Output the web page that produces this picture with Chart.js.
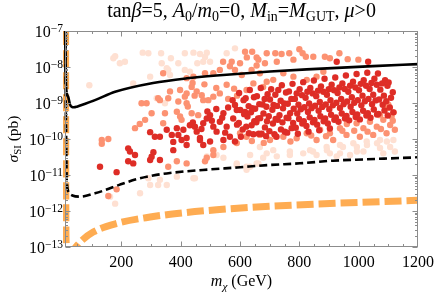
<!DOCTYPE html>
<html><head><meta charset="utf-8">
<script src="https://cdn.jsdelivr.net/npm/chart.js@4/dist/chart.umd.min.js"></script>
<style>html,body{margin:0;padding:0;background:#fff}canvas{display:block}</style>
</head><body>
<canvas id="c" width="435" height="296"></canvas>
<script>
// ---------- text / axes ----------
const xRange = [10, 1200];
const yRange = [1e-13, 1e-7];
const xTicks = [200, 400, 600, 800, 1000, 1200];
const yTickExps = [-13, -12, -11, -10, -9, -8, -7];
const titleParts = [
  {t:'tan'},{t:'β',i:1},{t:'=5, '},{t:'A',i:1},{t:'0',sub:1},{t:'/'},{t:'m',i:1},{t:'0',sub:1},
  {t:'=0, '},{t:'M',i:1},{t:'in',sub:1},{t:'='},{t:'M',i:1},{t:'GUT',sub:1},{t:', '},{t:'μ',i:1},{t:'>0'}
];
const xLabelParts = [{t:'m',i:1},{t:'χ',i:1,sub:1},{t:' (GeV)'}];
const yLabelParts = [{t:'σ',i:1},{t:'SI',sub:1},{t:' (pb)'}];

// ---------- curves [m (GeV), sigma (pb)] ----------
const limitSolid = [[10.5,1.2e-7],[12,1e-8],[13.5,3e-9],[16,1.9e-9],[21,1.45e-9],[27,9e-10],[33,7.8e-10],[40,7.6e-10],[50,7.9e-10],[66,8.8e-10],[111,1.2e-9],[179,2.05e-9],[307,3.6e-9],[421,4.85e-9],[532,5.9e-9],[701,7.5e-9],[825,8.6e-9],[1048,1.06e-8],[1200,1.2e-8]];
const limitDashed = [[11.2,1.2e-7],[12.5,1e-9],[14,1e-10],[15.2,1.2e-11],[16.5,6e-12],[19,4e-12],[25,3.1e-12],[35,2.7e-12],[61,2.5e-12],[111,3.1e-12],[145,3.8e-12],[195,5.4e-12],[253,7.7e-12],[307,9.7e-12],[364,1.14e-11],[475,1.38e-11],[590,1.62e-11],[701,1.9e-11],[802,2.11e-11],[913,2.5e-11],[1028,2.73e-11],[1200,3.1e-11]];
const floorCurve = [[12,1.2e-7],[12.2,1e-9],[12.8,1e-12],[14,1.3e-13],[17,8.5e-14],[25,7.5e-14],[35,8e-14],[44,9.5e-14],[66,1.5e-13],[105,2.6e-13],[184,4.5e-13],[297,6.8e-13],[409,8.9e-13],[521,1.08e-12],[634,1.26e-12],[858,1.56e-12],[1083,1.83e-12],[1200,1.98e-12]];

// ---------- scan points [m (GeV), sigma (pb)] ----------
const redPts = [
[597,1.9e-9],[612,1.2e-9],[601,6.4e-10],[614,4.9e-10],[596,2.8e-10],[609,1.85e-10],[603,1.15e-10],
[619,1.35e-9],[629,8.2e-10],[617,5.6e-10],[625,4.2e-10],[621,2.2e-10],[630,1.45e-10],
[633,2.3e-9],[647,1.45e-9],[641,7.2e-10],[637,5.5e-10],[648,3.1e-10],[639,2.4e-10],[645,1.35e-10],
[657,1.55e-9],[665,9.3e-10],[651,6.9e-10],[661,3.7e-10],[655,2.9e-10],[663,1.4e-10],
[670,2.6e-9],[683,1.3e-9],[676,9.1e-10],[679,5.1e-10],[668,3.8e-10],[684,2.1e-10],[673,1.4e-10],
[693,1.75e-9],[701,1.25e-9],[689,7.9e-10],[697,4.3e-10],[691,3.1e-10],[699,1.65e-10],[688,1.2e-10],
[705,2.4e-9],[719,1.7e-9],[713,8.8e-10],[709,6.5e-10],[720,3.6e-10],[711,2.7e-10],[716,1.35e-10],
[729,2.3e-9],[737,1.15e-9],[725,8.3e-10],[733,4.6e-10],[727,3.4e-10],[738,1.85e-10],[723,1.15e-10],
[741,3.1e-9],[755,1.95e-9],[749,9.7e-10],[745,7.1e-10],[757,3.9e-10],[743,2.9e-10],[751,1.6e-10],
[765,2.1e-9],[773,1.3e-9],[761,9.5e-10],[769,5.2e-10],[763,3.8e-10],[774,2.0e-10],[759,1.5e-10],
[777,3.4e-9],[791,1.85e-9],[785,1.3e-9],[781,6.9e-10],[793,5.1e-10],[779,2.8e-10],[788,2.05e-10],
[801,2.4e-9],[809,1.65e-9],[797,8.9e-10],[805,6.7e-10],[799,3.6e-10],[810,2.7e-10],[795,1.4e-10],
[813,3.8e-9],[827,2.05e-9],[821,1.4e-9],[817,7.6e-10],[829,5.6e-10],[815,3.1e-10],[824,2.3e-10],
[837,2.6e-9],[845,1.85e-9],[833,9.7e-10],[841,7.2e-10],[835,4.0e-10],[846,2.9e-10],[831,1.6e-10],
[849,4.2e-9],[863,2.2e-9],[857,1.55e-9],[853,8.4e-10],[865,6.1e-10],[851,3.4e-10],[860,2.5e-10],
[873,2.9e-9],[881,2.05e-9],[869,1.07e-9],[877,7.8e-10],[871,4.3e-10],[882,3.1e-10],[867,1.75e-10],
[885,4.7e-9],[899,2.4e-9],[893,1.7e-9],[889,9.1e-10],[901,6.7e-10],[887,3.7e-10],[896,2.7e-10],
[909,3.2e-9],[917,2.25e-9],[905,1.2e-9],[913,8.6e-10],[907,4.7e-10],[918,3.4e-10],[903,1.95e-10],
[921,5.1e-9],[935,2.7e-9],[929,1.9e-9],[925,1.02e-9],[937,7.3e-10],[923,4.0e-10],[932,3.0e-10],
[945,3.5e-9],[953,2.45e-9],[941,1.3e-9],[949,9.3e-10],[943,5.1e-10],[954,3.7e-10],
[957,5.8e-9],[971,3.0e-9],[965,2.05e-9],[961,1.1e-9],[973,7.9e-10],[959,4.4e-10],[968,3.3e-10],
[981,3.9e-9],[989,2.7e-9],[977,1.45e-9],[985,1.02e-9],[979,5.6e-10],[990,4.1e-10],
[993,6.4e-9],[1007,3.4e-9],[1001,2.25e-9],[997,1.2e-9],[1009,8.6e-10],[995,4.8e-10],[1004,3.5e-10],
[1017,4.3e-9],[1025,3.0e-9],[1013,1.6e-9],[1021,1.12e-9],[1015,6.1e-10],[1026,4.5e-10],
[1029,6.9e-9],[1043,3.6e-9],[1037,2.45e-9],[1033,1.3e-9],[1045,9.3e-10],[1031,5.2e-10],[1040,3.9e-10],
[1053,4.7e-9],[1061,3.2e-9],[1049,1.7e-9],[1057,1.18e-9],[1051,6.6e-10],[1062,4.8e-10],
[1065,6.6e-9],[1079,3.5e-9],[1073,2.35e-9],[1069,1.25e-9],[1081,8.9e-10],[1067,5.0e-10],
[1089,4.3e-9],[1097,3.0e-9],[1085,1.6e-9],[1093,1.12e-9],[1087,6.2e-10],[1098,4.5e-10],
[1101,3.7e-9],[1115,2.0e-9],[1109,1.4e-9],[1105,7.5e-10],[1117,5.5e-10],
[926,1.4e-8],[1032,1.4e-8],
[431,2.4e-10],[441,2.9e-10],[420,1.07e-10],[420,6.8e-11],[403,9.4e-11],[392,1.3e-10],[387,2.0e-10],
[375,8.3e-11],[375,4.9e-11],[353,1.8e-10],[370,1.3e-10],[330,1.15e-10],[297,1.55e-10],[313,1.15e-10],
[302,3.2e-11],[308,4.3e-11],[297,2.6e-11],[330,2.6e-11],[223,5.5e-11],[229,4.5e-11],[246,3.6e-11],
[223,2.4e-11],[240,2.1e-11],[128,1.7e-11],[184,1.2e-11],[465,1.07e-10],[476,6.8e-11],[448,2.2e-10],
[454,1.6e-10],[476,2.75e-10],[488,3.7e-10],[499,4.6e-10],[510,2.2e-10],[521,1.6e-10],[532,3.0e-10],
[544,5.2e-10],[555,2.2e-10],[566,1.15e-10],[577,3.7e-10],[589,6.4e-10],[583,8.8e-10],[465,9.4e-11],
[499,8.5e-11],[544,9.4e-11],[583,8.5e-11],[409,1.8e-10],[560,7.5e-10],[520,6.8e-10],[490,5.8e-10],
[575,1.2e-9],[540,3.9e-10],[505,3.2e-10],[470,1.9e-10],[590,2.5e-10],[550,1.5e-10]
];
const salmonPts = [
[617,2.65e-8],[641,2.65e-8],[623,1.85e-8],[656,1.85e-8],[690,2.4e-8],[719,2.4e-8],[740,2.3e-8],[766,2.4e-8],
[800,3.1e-8],[811,2.4e-8],[822,1.93e-8],[847,1.93e-8],[886,1.93e-8],[903,1.75e-8],[935,2.4e-8],[963,1.65e-8],
[543,1.4e-8],[572,1.4e-8],[600,1.27e-8],[662,1.6e-8],[684,1.27e-8],[656,1.1e-8],[724,1.4e-8],[780,1.6e-8],
[999,1.6e-8],[532,8.3e-9],[566,1.05e-8],[583,8.3e-9],[639,8.3e-9],[510,6.7e-9],[482,6.7e-9],[341,6.7e-9],
[443,5.4e-9],[420,4.9e-9],
[364,2.1e-9],[398,2.3e-9],[420,1.85e-9],[437,2.8e-9],[454,2.1e-9],[471,1.65e-9],[493,1.2e-9],[510,1.5e-9],
[532,1.85e-9],[268,9.8e-10],[285,9.8e-10],[330,1.2e-9],[358,1.35e-9],[392,1.1e-9],[420,9.8e-10],[302,5.2e-10],
[398,4.2e-10],[437,5.2e-10],[459,4.6e-10],[246,2.0e-10],[280,3.4e-10],[262,2.6e-10],[341,2.75e-10],[347,5.2e-10],
[387,5.7e-10],[403,3.4e-10],[424,8e-10],[414,1.5e-9],[447,1.6e-9],[476,1.2e-9],[324,1.35e-9],[622,2.3e-9],
[645,3.5e-9],[678,2.8e-9],[712,4.4e-9],[746,6.7e-9],[780,5.4e-9],[825,4.4e-9],[858,5.4e-9],[881,7.4e-9],
[690,3.9e-9],[667,6.7e-9],[606,6e-9],[555,3.2e-9],[580,2.5e-9],[520,2.6e-9],[480,3.3e-9],[440,3.6e-9],
[560,1.3e-9],[590,1.6e-9],
[870,1.8e-10],[903,1.45e-10],[937,2e-10],[959,1.3e-10],[993,2.75e-10],[1016,2e-10],[1038,3e-10],[1061,2.2e-10],
[1083,3.4e-10],[1106,2.45e-10],[1122,1.8e-10],[1049,1.3e-10],[1094,1.45e-10],[825,1.45e-10],[791,1.05e-10],
[746,1.15e-10],[701,9.4e-11],[667,1.3e-10],[622,1.15e-10],[600,1.45e-10],[858,9.4e-11],[914,9.4e-11],
[1004,1.15e-10],[1072,4.6e-10],[1111,4.2e-10],[1094,7.1e-10],[960,2.6e-10],[985,1.7e-10],[1030,1.6e-10],
[1075,1.9e-10],[1115,3.2e-10],[945,1.7e-10],[890,1.2e-10],[840,1.25e-10],[770,8.5e-11],[720,1.2e-10],
[680,7.8e-11],[640,8.8e-11],[1118,5.5e-10],[1100,9e-10],
[134,9.4e-11],[156,1.0e-10],[134,7.4e-11],[156,2.6e-12],[184,4.0e-12],[420,2.1e-11],[482,2.4e-11],
[510,3.6e-11],[387,2.4e-11],[488,3e-11],[510,4.9e-11],[544,6e-11],[589,7.7e-11],[358,1.7e-11]
];
const lightPts = [
[92,3.1e-9],[173,1.75e-8],[179,2.0e-8],[195,1.27e-8],[212,1.4e-8],[272,2.5e-8],[291,2.4e-8],[334,2.4e-8],
[367,1.75e-8],[336,1.27e-8],[358,8.3e-9],[392,1.27e-8],[414,8.3e-9],[431,7.4e-9],[443,2.5e-8],[465,2.3e-8],
[488,2.5e-8],[456,1.27e-8],[476,1.4e-8],[499,1.4e-8],[240,3.5e-9],[555,2.4e-8],[583,3.3e-8],[414,2.4e-8],
[482,1.9e-8],[297,5.4e-9],[353,9.2e-9],[364,6e-9],[319,1.35e-9],[347,9.8e-10],
[488,3.3e-11],[521,3.6e-11],[544,3e-11],[589,2.1e-11],[634,1.7e-11],[662,2.1e-11],[678,3e-11],[724,3.3e-11],
[768,3.6e-11],[813,4e-11],[858,3.6e-11],[903,4e-11],[926,3.3e-11],[971,3.6e-11],[1016,4.5e-11],[1083,4e-11],
[846,4.5e-11],[893,4.9e-11],[947,6e-11],[994,6e-11],[1028,6.8e-11],[1062,7.6e-11],[1095,8.5e-11],[1122,4.5e-11],
[937,4e-11],[994,4.5e-11],[667,6e-11],[712,4.9e-11],[768,4.5e-11],[836,4.9e-11],[892,6e-11],[937,6.8e-11],
[982,7.6e-11],[1027,8.5e-11],[1072,9.4e-11],[1117,9.4e-11],[1072,5.6e-11],[1106,6e-11],[634,3.6e-11],[690,4e-11],
[622,1.7e-11],
[443,8.1e-12],[297,5.3e-12],[324,5.3e-12],[353,5.3e-12],[263,3.1e-12],[179,1.6e-12],[387,9e-12],[162,2.5e-12],
[330,7.4e-12],[291,8.1e-12],[448,8.1e-12],[622,1.4e-11],[589,1.9e-11],[656,2.1e-11]
];

// ---------- rendering ----------
const FONT = '"Liberation Serif","Times New Roman",serif';
function partFont(p, size) {
  const s = p.sub ? size * 0.7 : size;
  return (p.i ? 'italic ' : '') + s.toFixed(2) + 'px ' + FONT;
}
function richWidth(ctx, parts, size) {
  let w = 0;
  for (const p of parts) { ctx.font = partFont(p, size); w += ctx.measureText(p.t).width; }
  return w;
}
function drawRich(ctx, parts, cx, y, size) {
  let x = cx - richWidth(ctx, parts, size) / 2;
  ctx.textAlign = 'left';
  for (const p of parts) {
    ctx.font = partFont(p, size);
    ctx.fillText(p.t, x, p.sub ? y + size * 0.22 : y);
    x += ctx.measureText(p.t).width;
  }
}

const decor = {
  id: 'decor',
  afterDraw(chart) {
    const {ctx, chartArea: a, scales} = chart;
    const xs = scales.x, ys = scales.y;
    ctx.save();
    ctx.strokeStyle = '#8c8c8c';
    ctx.lineWidth = 1;
    const L = Math.round(a.left) + 0.5, R = Math.round(a.right) - 0.5;
    const T = Math.round(a.top) + 0.5, B = Math.round(a.bottom) - 0.5;
    ctx.strokeRect(L, T, R - L, B - T);
    ctx.beginPath();
    for (let v = 50; v < xRange[1]; v += 50) {
      const px = Math.round(xs.getPixelForValue(v)) + 0.5;
      if (px <= L) continue;
      const len = v % 200 === 0 ? 5 : 2.5;
      ctx.moveTo(px, B); ctx.lineTo(px, B - len);
      ctx.moveTo(px, T); ctx.lineTo(px, T + len);
    }
    for (let e = yTickExps[0]; e < yTickExps[yTickExps.length - 1]; e++) {
      for (let k = 1; k < 10; k++) {
        const py = Math.round(ys.getPixelForValue(k * Math.pow(10, e))) + 0.5;
        const len = k === 1 ? 5 : 2.5;
        ctx.moveTo(L, py); ctx.lineTo(L + len, py);
        ctx.moveTo(R, py); ctx.lineTo(R - len, py);
      }
    }
    ctx.stroke();

    ctx.fillStyle = '#000';
    ctx.textBaseline = 'alphabetic';
    ctx.font = '16px ' + FONT;
    ctx.textAlign = 'center';
    for (const v of xTicks) ctx.fillText(String(v), xs.getPixelForValue(v), a.bottom + 20);

    for (const e of yTickExps) {
      const py = ys.getPixelForValue(Math.pow(10, e));
      const sup = '\u2212' + Math.abs(e);
      ctx.font = '11.5px ' + FONT;
      const sw = ctx.measureText(sup).width;
      ctx.textAlign = 'right';
      ctx.fillText(sup, a.left - 2, py + 0.5);
      ctx.font = '16px ' + FONT;
      ctx.fillText('10', a.left - 2 - sw, py + 6);
    }

    const tSize = Math.min(20, 18 * 286 / richWidth(ctx, titleParts, 18));
    drawRich(ctx, titleParts, (a.left + a.right) / 2, 17, tSize);
    drawRich(ctx, xLabelParts, (a.left + a.right) / 2, 286, 16);
    ctx.save();
    ctx.translate(18, (a.top + a.bottom) / 2);
    ctx.rotate(-Math.PI / 2);
    drawRich(ctx, yLabelParts, 0, 0, 15.5);
    ctx.restore();
    ctx.restore();
  }
};

const toXY = arr => arr.map(([m, s]) => ({x: m, y: s}));
const pts = (arr, color, order) => ({
  data: toXY(arr), backgroundColor: color, borderColor: color, borderWidth: 0,
  pointRadius: 3.2, pointHoverRadius: 3.2, showLine: false, order, clip: false
});
const curve = (arr, color, width, dash, order) => ({
  data: toXY(arr), borderColor: color, backgroundColor: color, borderWidth: width,
  borderDash: dash, borderCapStyle: 'butt', pointRadius: 0, pointHoverRadius: 0,
  showLine: true, fill: false, cubicInterpolationMode: 'monotone', order,
  clip: {left: 2, top: 0, right: 0, bottom: 0}
});

new Chart(document.getElementById('c'), {
  type: 'scatter',
  data: {
    datasets: [
      curve(limitSolid, '#000000', 2.6, [], 0),
      curve(limitDashed, '#000000', 2.6, [8, 4], 1),
      curve(floorCurve, 'rgb(254,172,82)', 7, [17, 5], 2),
      pts(redPts, 'rgb(222,45,38)', 3),
      pts(salmonPts, 'rgb(252,146,114)', 4),
      pts(lightPts, 'rgb(254,224,210)', 5)
    ]
  },
  options: {
    responsive: false, animation: false, devicePixelRatio: 1,
    layout: {padding: {left: 65, right: 17, top: 31, bottom: 49}},
    scales: {
      x: {type: 'linear', min: xRange[0], max: xRange[1], display: false},
      y: {type: 'logarithmic', min: yRange[0], max: yRange[1], display: false}
    },
    plugins: {legend: {display: false}, tooltip: {enabled: false}, title: {display: false}},
    events: []
  },
  plugins: [decor]
});
</script>
</body></html>
